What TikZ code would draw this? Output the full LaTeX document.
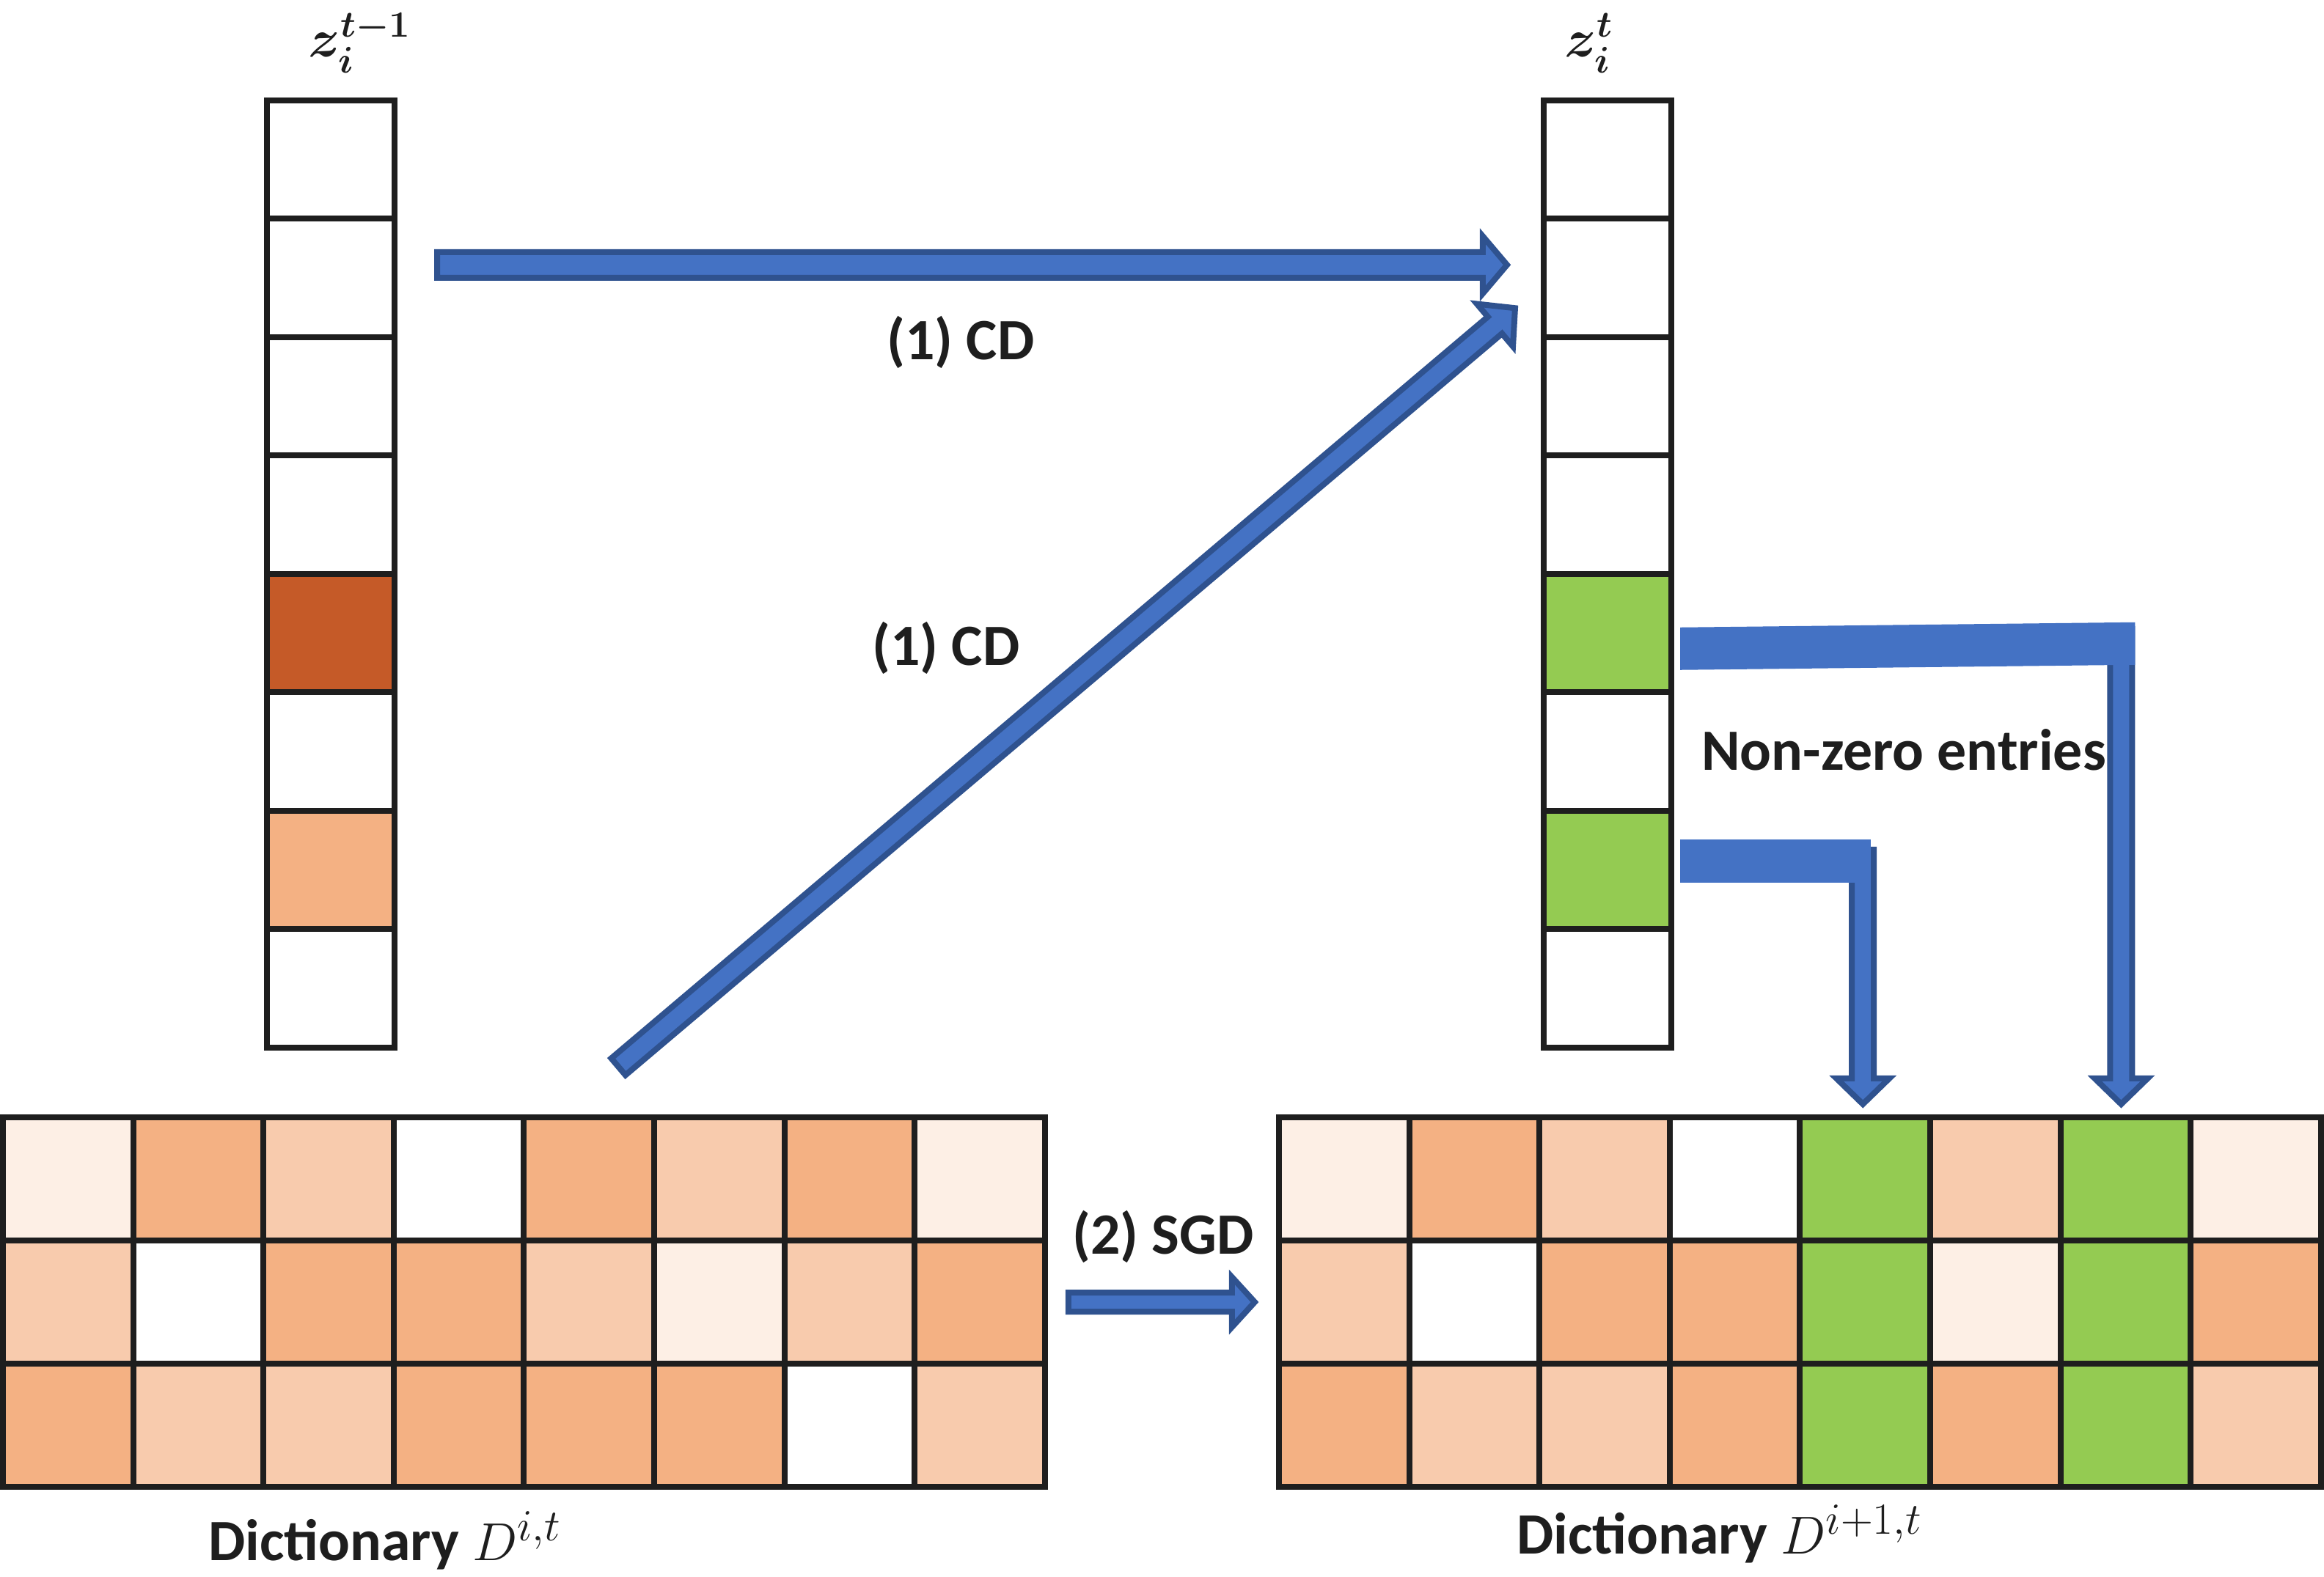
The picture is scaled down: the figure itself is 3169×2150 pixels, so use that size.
\documentclass[tikz,border=0pt]{standalone}
\usepackage{fontspec}
\newfontfamily\carlito{Carlito}
\usetikzlibrary{calc}
\definecolor{arrfill}{HTML}{4472C4}
\definecolor{arrline}{HTML}{2F528F}
\definecolor{cmed}{HTML}{F4B183}
\definecolor{clight}{HTML}{F8CBAD}
\definecolor{cvlight}{HTML}{FDEFE5}
\definecolor{cdark}{HTML}{C55A28}
\definecolor{cgreen}{HTML}{94CB52}
\definecolor{cline}{HTML}{1E1E1E}
% block arrow: #1 from, #2 to, #3 shaft half width, #4 head half width, #5 head length
\newcommand\blkarrow[5]{%
  \coordinate (tmpC) at ($(#2)!#5!(#1)$);
  \filldraw[blockarr] ($(#1)!#3!90:(#2)$) -- ($(tmpC)!#3!90:(#2)$) -- ($(tmpC)!#4!90:(#2)$) --
    (#2) -- ($(tmpC)!#4!-90:(#2)$) -- ($(tmpC)!#3!-90:(#2)$) -- ($(#1)!#3!-90:(#2)$) -- cycle;}
\tikzset{
  vcell/.style={draw=cline, line width=0.08cm, minimum width=1.74cm, minimum height=1.615cm, inner sep=0pt, outer sep=0pt},
  mcell/.style={draw=cline, line width=0.08cm, minimum width=1.776cm, minimum height=1.68cm, inner sep=0pt, outer sep=0pt},
  blockarr/.style={fill=arrfill, draw=arrline, line width=0.08cm, line join=miter},
  barfill/.style={fill=arrfill, draw=none},
  lbl/.style={font=\carlito\bfseries\fontsize{22.7}{27}\selectfont, inner sep=0pt, text=cline},
  zlbl/.style={font=\fontsize{21}{25}\selectfont\boldmath, inner sep=0pt, text=cline}
}
\begin{document}
\begin{tikzpicture}[x=0.01cm, y=-0.01cm]
\useasboundingbox (0,0) rectangle (3169,2150);
% vertical vectors
\foreach \col [count=\k] in {white,white,white,white,cdark,white,cmed,white}
  \node[vcell, fill=\col] (L\k) at (451, {137+161.5*(\k-0.5)}) {};
\foreach \col [count=\k] in {white,white,white,white,cgreen,white,cgreen,white}
  \node[vcell, fill=\col] (R\k) at (2192, {137+161.5*(\k-0.5)}) {};
% dictionaries
\foreach \r/\row in {1/{cvlight,cmed,clight,white,cmed,clight,cmed,cvlight},
                     2/{clight,white,cmed,cmed,clight,cvlight,clight,cmed},
                     3/{cmed,clight,clight,cmed,cmed,cmed,white,clight}}
  \foreach \col [count=\c] in \row
    \node[mcell, fill=\col] (A-\r-\c) at ({4+177.6*(\c-0.5)}, {1524+168*(\r-0.5)}) {};
\foreach \r/\row in {1/{cvlight,cmed,clight,white,cgreen,clight,cgreen,cvlight},
                     2/{clight,white,cmed,cmed,cgreen,cvlight,cgreen,cmed},
                     3/{cmed,clight,clight,cmed,cgreen,cmed,cgreen,clight}}
  \foreach \col [count=\c] in \row
    \node[mcell, fill=\col] (B-\r-\c) at ({1744+177.6*(\c-0.5)}, {1524+168*(\r-0.5)}) {};
% labels
\node[zlbl, anchor=base west] (zl) at (420,77) {$z_i^{t-1}$};
\node[zlbl, anchor=base west] (zr) at (2133,77) {$z_i^{t}$};
\node[lbl] (cd1) at (1310,467) {(1) CD};
\node[lbl] (cd2) at (1290,884) {(1) CD};
\node[lbl, anchor=base] (nz) at (2596,1050) {Non-zero entries};
\node[lbl] (sgd) at (1586,1687) {(2) SGD};
\node[lbl, anchor=base] (dl) at (525,2128) {Dictionary $D^{i,t}$};
\node[lbl, anchor=base] (dr) at (2345,2119) {Dictionary $D^{i+1,t}$};
% (1) CD arrows
\coordinate (h1a) at ($(L2.east)+(58,-18)$);
\coordinate (h1b) at ($(R2.west)+(-50,-18)$);
\blkarrow{h1a}{h1b}{0.175cm}{0.39cm}{0.33cm}
\coordinate (d1a) at ($(A-1-5.north)+(40,-69)$);
\coordinate (d1b) at ($(R2.west)+(-39,41)$);
\blkarrow{d1a}{d1b}{0.15cm}{0.38cm}{0.36cm}
% (2) SGD arrow
\coordinate (s1a) at ($(A-2-8.east)+(32,0)$);
\coordinate (s1b) at ($(B-2-1.west)+(-33,0)$);
\blkarrow{s1a}{s1b}{0.13cm}{0.34cm}{0.31cm}
% bent arrows to non-zero columns
\coordinate (uL) at ($(R5.east)+(12,21)$);
\coordinate (ut) at ($(B-1-7.north)+(-6,-18)$);
\coordinate (uv) at ($(ut |- uL)+(0,-27)$);
\blkarrow{uv}{ut}{0.15cm}{0.36cm}{0.35cm}
\fill[barfill] ($(uL)+(0,-29)$) -- ($(ut |- uL)+(19,-36)$) -- ($(ut |- uL)+(19,22)$) -- ($(uL)+(0,29)$) -- cycle;
\coordinate (lL) at ($(R7.east)+(12,-12)$);
\coordinate (lt) at ($(B-1-5.north)+(-3,-18)$);
\coordinate (lv) at ($(lt |- lL)+(0,-16)$);
\blkarrow{lv}{lt}{0.15cm}{0.36cm}{0.35cm}
\fill[barfill] ($(lL)+(0,-30)$) -- ($(lt |- lL)+(11,-30)$) -- ($(lt |- lL)+(11,29)$) -- ($(lL)+(0,29)$) -- cycle;
\end{tikzpicture}
\end{document}
